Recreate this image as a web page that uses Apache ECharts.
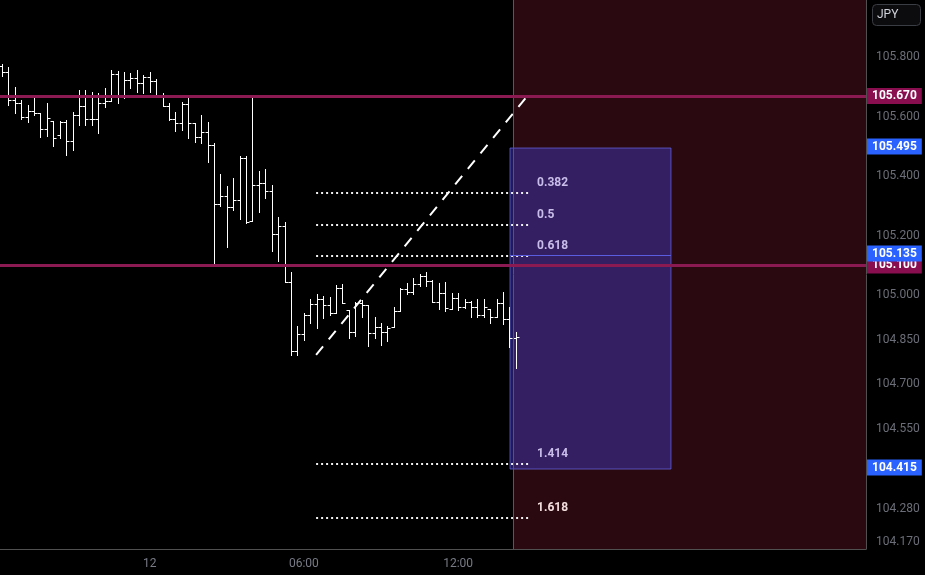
<!DOCTYPE html>
<html><head><meta charset="utf-8">
<script src="https://cdn.jsdelivr.net/npm/echarts@6/dist/echarts.min.js"></script>
<style>html,body{margin:0;padding:0;background:#000;}#c{width:925px;height:575px;}</style>
</head><body><div id="c"></div>
<script>
// 15-minute OHLC bars (bar 23 = 00:00 on the 12th)
const opens = [105.771,105.752,105.657,105.647,105.600,105.621,105.614,105.559,105.587,105.539,
105.583,105.519,105.606,105.636,105.592,105.592,105.645,105.654,105.744,105.670,
105.724,105.730,105.715,105.735,105.721,105.673,105.636,105.592,105.578,105.643,
105.578,105.533,105.549,105.505,105.307,105.333,105.297,105.320,105.460,105.250,
105.370,105.376,105.351,105.206,105.233,105.045,104.812,104.871,104.933,104.970,
104.986,104.967,104.941,105.023,104.950,104.877,104.975,104.967,104.874,104.894,
104.877,104.892,104.948,105.020,105.012,105.037,105.064,105.049,104.978,105.006,
104.952,104.989,104.961,104.978,104.959,104.933,104.952,104.927,104.975,104.919,104.855];
const highs = [105.778,105.767,105.701,105.657,105.640,105.668,105.614,105.647,105.587,105.587,
105.589,105.617,105.690,105.690,105.684,105.679,105.696,105.757,105.755,105.752,
105.746,105.757,105.741,105.752,105.726,105.679,105.645,105.617,105.651,105.662,
105.578,105.606,105.584,105.513,105.408,105.367,105.394,105.468,105.468,105.670,
105.419,105.423,105.370,105.264,105.247,105.079,104.896,104.939,104.986,105.004,
104.997,104.993,105.034,105.037,104.950,104.978,104.984,104.967,104.927,104.905,
104.896,104.959,105.023,105.042,105.057,105.071,105.079,105.051,105.042,105.045,
105.006,105.008,104.986,104.981,104.986,104.986,104.952,104.986,105.012,104.961,104.877];
const lows = [105.737,105.640,105.612,105.592,105.584,105.606,105.533,105.535,105.502,105.528,
105.471,105.488,105.572,105.572,105.572,105.544,105.634,105.654,105.647,105.662,
105.696,105.684,105.679,105.684,105.673,105.636,105.589,105.553,105.556,105.528,
105.516,105.511,105.449,105.109,105.300,105.163,105.286,105.256,105.242,105.250,
105.281,105.326,105.149,105.116,105.045,104.799,104.797,104.849,104.905,104.888,
104.922,104.933,104.941,104.973,104.855,104.862,104.927,104.829,104.855,104.832,
104.847,104.892,104.948,105.004,105.004,105.031,105.031,104.978,104.952,104.948,
104.952,104.950,104.956,104.925,104.925,104.925,104.907,104.925,104.903,104.824,104.754];
const closes = [105.752,105.657,105.647,105.600,105.621,105.614,105.559,105.595,105.528,105.584,
105.519,105.606,105.636,105.592,105.592,105.645,105.654,105.744,105.670,105.724,
105.730,105.715,105.735,105.721,105.673,105.636,105.592,105.578,105.643,105.580,
105.533,105.549,105.505,105.307,105.333,105.297,105.320,105.460,105.247,105.370,
105.376,105.351,105.206,105.233,105.045,104.812,104.871,104.933,104.970,104.986,
104.967,104.939,105.023,104.975,104.877,104.975,104.967,104.874,104.894,104.877,
104.888,104.948,105.020,105.012,105.037,105.064,105.049,104.978,105.006,104.956,
104.989,104.961,104.978,104.959,104.933,104.961,104.927,104.975,104.919,104.855,104.858];

const xTickIdx = [23, 47, 71];
const xTickLabels = ['12', '06:00', '12:00'];
const yTickValues = [105.8, 105.6, 105.4, 105.2, 105.0, 104.85, 104.7, 104.55, 104.28, 104.17];

const fibRatios = ['0.382', '0.5', '0.618', '1.414', '1.618'];
const fibPrices = [105.344, 105.236, 105.132, 104.432, 104.250];
const fibRange = [48.9, 81.9];
const trendLine = [[48.9, 104.799], [81.9, 105.673]];
const hLevels = [105.670, 105.100];
const boxX = [79.08, 104.13];
const boxPrices = [105.495, 104.415];
const midLevel = 105.135;
const nowIdx = 79.54;
const xRange = [-0.3, 134.49];
const yRange = [104.146, 105.993];

const FONT = 'Roboto, "Noto Sans", sans-serif';
const chart = echarts.init(document.getElementById('c'));

function renderOHLC(params, api) {
  const i = api.value(0);
  const o = api.coord([i, api.value(1)]);
  const h = api.coord([i, api.value(2)]);
  const l = api.coord([i, api.value(3)]);
  const c = api.coord([i, api.value(4)]);
  const x = Math.round(h[0]) + 0.5;
  const st = { stroke: '#ffffff', lineWidth: 1 };
  const oy = Math.round(o[1]) + 0.5, cy = Math.round(c[1]) + 0.5;
  return { type: 'group', children: [
    { type: 'line', shape: { x1: x, y1: Math.round(h[1]), x2: x, y2: Math.round(l[1]) + 1 }, style: st },
    { type: 'line', shape: { x1: x - 3, y1: oy, x2: x, y2: oy }, style: st },
    { type: 'line', shape: { x1: x, y1: cy, x2: x + 3, y2: cy }, style: st }
  ]};
}

function renderFib(params, api) {
  const p = api.value(2);
  const k = api.value(3);
  const a = api.coord([api.value(0), p]);
  const b = api.coord([api.value(1), p]);
  const y = Math.round(a[1]);
  return { type: 'group', children: [
    { type: 'line', shape: { x1: a[0], y1: y, x2: b[0], y2: y },
      style: { stroke: '#f0f0f0', lineWidth: 2, lineDash: [2, 3] } },
    { type: 'text', x: b[0] + 9, y: y - 10,
      style: { text: fibRatios[k], fill: k === 4 ? '#f3dede' : '#c9bde9',
               font: 'bold 12px ' + FONT, verticalAlign: 'middle', align: 'left' } }
  ]};
}

const axisLabelBox = (bg) => ({
  show: true, position: 'end', distance: 1,
  formatter: (p) => p.name,
  backgroundColor: bg, color: '#ffffff', fontWeight: 'bold', fontSize: 12,
  fontFamily: FONT, padding: [2, 5, 2, 5]
});

chart.setOption({
  animation: false,
  backgroundColor: '#000000',
  grid: { left: 0, right: 59, top: 0, bottom: 26 },
  xAxis: {
    type: 'value', min: xRange[0], max: xRange[1],
    splitLine: { show: false }, axisTick: { show: false },
    axisLine: { show: true, onZero: false, lineStyle: { color: '#505050', width: 1 } },
    axisLabel: {
      customValues: xTickIdx, color: '#787b86', fontSize: 12, fontFamily: FONT, margin: 9,
      formatter: (v) => { const k = xTickIdx.indexOf(Math.round(v)); return k >= 0 ? xTickLabels[k] : ''; }
    }
  },
  yAxis: {
    type: 'value', position: 'right', min: yRange[0], max: yRange[1],
    splitLine: { show: false }, axisTick: { show: false },
    axisLine: { show: true, onZero: false, lineStyle: { color: '#505050', width: 1 } },
    axisLabel: {
      customValues: yTickValues, color: '#6b6e78', fontSize: 12, fontFamily: FONT, margin: 10,
      formatter: (v) => Number(v).toFixed(3)
    }
  },
  graphic: [
    { type: 'rect', shape: { x: 872.5, y: 4.5, width: 48, height: 21, r: 4 },
      style: { fill: '#0c0c0e', stroke: '#3b3d45', lineWidth: 1 } },
    { type: 'text', x: 877, y: 15,
      style: { text: 'JPY', fill: '#d1d4dc', font: '12px ' + FONT, verticalAlign: 'middle' } }
  ],
  series: [
    { // regions
      type: 'line', data: [], z: 1, silent: true,
      markArea: {
        silent: true,
        data: [
          [{ xAxis: nowIdx, itemStyle: { color: '#2a0a10' } }, { xAxis: xRange[1] }],
          [{ xAxis: boxX[0], yAxis: boxPrices[0],
             itemStyle: { color: 'rgba(60,50,165,0.55)', borderColor: 'rgba(105,105,235,0.7)', borderWidth: 1 } },
           { xAxis: boxX[1], yAxis: boxPrices[1] }]
        ]
      }
    },
    {
      type: 'custom', name: 'USDJPY', z: 2, clip: true,
      renderItem: renderOHLC,
      encode: { x: 0, y: [1, 2, 3, 4] },
      data: opens.map((o, i) => [i, o, highs[i], lows[i], closes[i]])
    },
    { // vertical time line + mid level line in box
      type: 'line', data: [], z: 3, silent: true,
      markLine: {
        silent: true, symbol: ['none', 'none'], label: { show: false },
        data: [
          { xAxis: nowIdx, lineStyle: { color: '#b3303f', width: 1, type: 'solid' } },
          [{ coord: [boxX[0], midLevel], lineStyle: { color: '#5b5de0', width: 1, type: 'solid' } },
           { coord: [boxX[1], midLevel] }]
        ]
      }
    },
    {
      type: 'custom', name: 'fib', z: 4, clip: false,
      renderItem: renderFib,
      data: fibPrices.map((p, k) => [fibRange[0], fibRange[1], p, k])
    },
    {
      type: 'line', name: 'trend', z: 4, symbol: 'none', silent: true,
      data: trendLine,
      lineStyle: { color: '#ffffff', width: 2, type: [11, 9] }
    },
    { // magenta horizontal levels
      type: 'line', data: [], z: 5, silent: true,
      markLine: {
        silent: true, symbol: ['none', 'none'],
        lineStyle: { color: '#8c1a52', width: 3, type: 'solid' },
        label: axisLabelBox('#880e4f'),
        data: hLevels.map((v) => ({ yAxis: v, name: v.toFixed(3) }))
      }
    },
    { // blue price labels on axis
      type: 'line', data: [], z: 6, silent: true,
      markLine: {
        silent: true, symbol: ['none', 'none'],
        lineStyle: { color: 'rgba(0,0,0,0)', width: 1, type: 'solid' },
        label: axisLabelBox('#2962ff'),
        data: [boxPrices[0], midLevel, boxPrices[1]].map((v) => ({ yAxis: v, name: v.toFixed(3) }))
      }
    }
  ]
});
</script></body></html>
